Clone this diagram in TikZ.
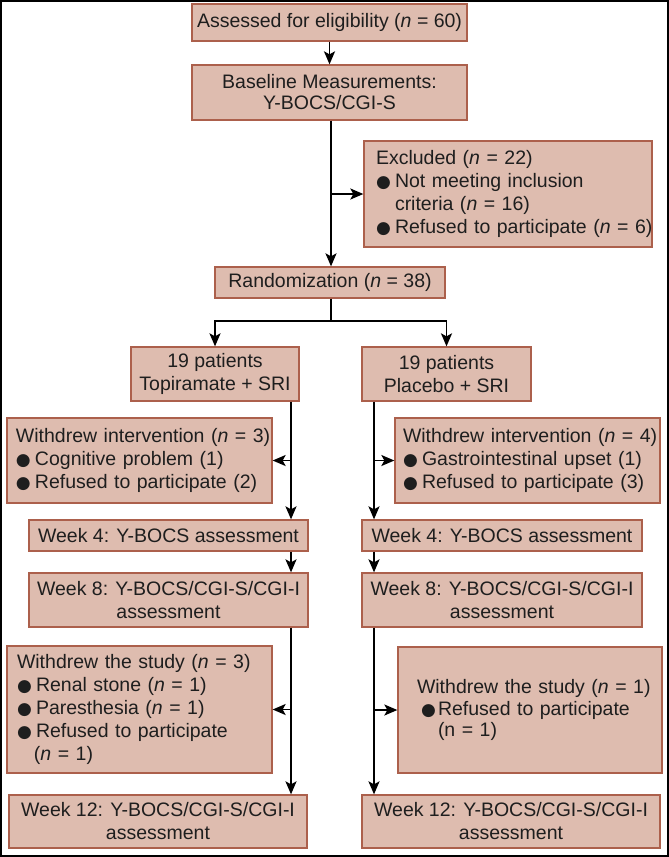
\documentclass[tikz,border=0pt]{standalone}
\usepackage{fontspec}
\setmainfont{Liberation Sans}
\newfontfamily\dvfont{DejaVu Sans}
\usetikzlibrary{arrows.meta}
\definecolor{boxfill}{RGB}{222,188,175}
\definecolor{boxline}{RGB}{172,96,76}
\definecolor{textc}{RGB}{30,30,30}
\newcommand{\bulsym}{\raisebox{-0.3pt}{\fontsize{17}{17}\selectfont\dvfont ●}}
\newcommand{\myitem}[1]{\mbox{\makebox[19pt][l]{\bulsym}#1}}
\begin{document}
\begin{tikzpicture}[x=1pt,y=-1pt,
  box/.style={draw=boxline, fill=boxfill, line width=1.3pt, inner sep=0pt, text=textc,
    font=\fontsize{19.5}{23}\selectfont},
  ctr/.style={box, align=center},
  lft/.style={box, align=left},
  conn/.style={line width=1.8pt, draw=black},
  arr/.style={conn, -{Stealth[length=13pt,width=11pt,inset=3pt]}}]
\useasboundingbox (0,0) rectangle (669,857);
\draw[line width=1.6pt] (1,1) rectangle (668,856);

% top
\node[ctr, minimum width=275pt, minimum height=37pt] (assess) at (329.5,22.5)
  {Assessed for eligibility (\textit{n} = 60)};
\node[ctr, minimum width=275pt, minimum height=55pt, font=\fontsize{19.5}{21}\selectfont] (base) at (329.5,92.5)
  {Baseline Measurements:\\Y-BOCS/CGI-S};
\node[lft, minimum width=288pt, minimum height=106pt, text width=264pt] (excl) at (508,194)
  {\mbox{Excluded (\textit{n} = 22)}\\
   \myitem{Not meeting inclusion}\\
   \mbox{\hspace*{19pt}criteria (\textit{n} = 16)}\\
   \myitem{Refused to participate (\textit{n} = 6)}};
\node[ctr, minimum width=230pt, minimum height=31pt] (rand) at (330,282.5)
  {Randomization (\textit{n} = 38)};

% arms
\node[ctr, minimum width=168pt, minimum height=54pt] (pL) at (215,374)
  {19 patients\\Topiramate + SRI};
\node[ctr, minimum width=169pt, minimum height=54pt] (pR) at (446.5,374)
  {19 patients\\Placebo + SRI};

\node[lft, minimum width=265pt, minimum height=85pt, text width=247pt] (wiL) at (139.5,460.5)
  {\mbox{Withdrew intervention (\textit{n} = 3)}\\
   \myitem{Cognitive problem (1)}\\
   \myitem{Refused to participate (2)}};
\node[lft, minimum width=265pt, minimum height=85pt, text width=249pt] (wiR) at (527.5,460.5)
  {\mbox{Withdrew intervention (\textit{n} = 4)}\\
   \myitem{Gastrointestinal upset (1)}\\
   \myitem{Refused to participate (3)}};

\node[ctr, minimum width=279pt, minimum height=31pt] (w4L) at (168.5,535.5)
  {Week 4: Y-BOCS assessment};
\node[ctr, minimum width=280pt, minimum height=31pt] (w4R) at (502,535.5)
  {Week 4: Y-BOCS assessment};

\node[ctr, minimum width=279pt, minimum height=54pt] (w8L) at (168.5,600)
  {Week 8: Y-BOCS/CGI-S/CGI-I\\assessment};
\node[ctr, minimum width=280pt, minimum height=54pt] (w8R) at (502,600)
  {Week 8: Y-BOCS/CGI-S/CGI-I\\assessment};

\node[lft, minimum width=265pt, minimum height=127pt, text width=245pt] (wsL) at (139.5,709.5)
  {\mbox{Withdrew the study (\textit{n} = 3)}\\
   \myitem{Renal stone (\textit{n} = 1)}\\
   \myitem{Paresthesia (\textit{n} = 1)}\\
   \myitem{Refused to participate}\\
   \mbox{\hspace*{17pt}(\textit{n} = 1)}};
\node[lft, minimum width=264pt, minimum height=126pt, text width=226pt, font=\fontsize{19.5}{21.5}\selectfont] (wsR) at (530,710)
  {\mbox{Withdrew the study (\textit{n} = 1)}\\
   \mbox{\hspace*{4pt}\makebox[17pt][l]{\bulsym}Refused to participate}\\
   \mbox{\hspace*{21pt}(n = 1)}};

\node[ctr, minimum width=298pt, minimum height=53pt] (w12L) at (158,821.5)
  {Week 12: Y-BOCS/CGI-S/CGI-I\\assessment};
\node[ctr, minimum width=298pt, minimum height=53pt] (w12R) at (511,821.5)
  {Week 12: Y-BOCS/CGI-S/CGI-I\\assessment};

% connectors
\coordinate (trunk) at (331,0);
\coordinate (split) at (331,321);
\coordinate (brL) at (291,0);
\coordinate (brR) at (374,0);

\draw[arr] (assess.south) -- (base.north);
\draw[arr] (base.south -| trunk) -- (rand.north -| trunk);
\draw[arr] (trunk |- excl.west) -- (excl.west);
\draw[conn] (rand.south -| trunk) -- (split);
\draw[arr] (split) -| (pL.north);
\draw[arr] (split) -| (pR.north);

\draw[arr] (pL.south -| brL) -- (w4L.north -| brL);
\draw[arr] (brL |- wiL.east) -- (wiL.east);
\draw[arr] (w4L.south -| brL) -- (w8L.north -| brL);
\draw[arr] (w8L.south -| brL) -- (w12L.north -| brL);
\draw[arr] (brL |- wsL.east) -- (wsL.east);

\draw[arr] (pR.south -| brR) -- (w4R.north -| brR);
\draw[arr] (brR |- wiR.west) -- (wiR.west);
\draw[arr] (w4R.south -| brR) -- (w8R.north -| brR);
\draw[arr] (w8R.south -| brR) -- (w12R.north -| brR);
\draw[arr] (brR |- wsR.west) -- (wsR.west);
\end{tikzpicture}
\end{document}
